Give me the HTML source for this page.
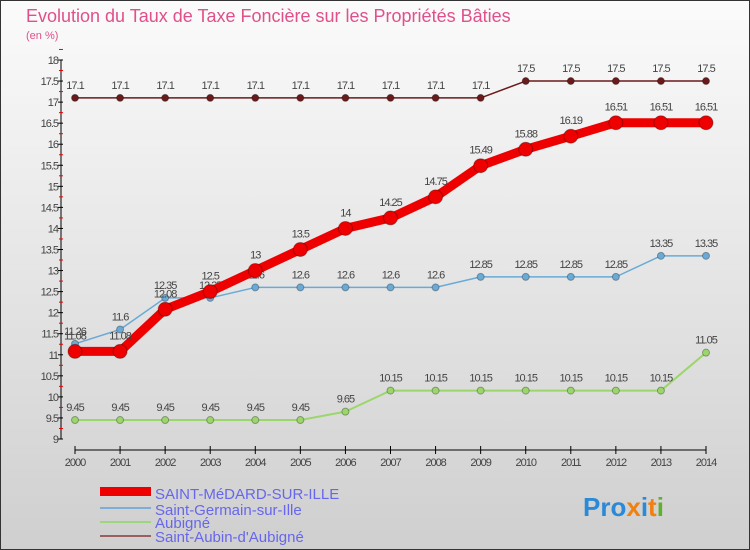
<!DOCTYPE html>
<html><head><meta charset="utf-8"><style>
body{margin:0}
#wrap{width:750px;height:550px;position:relative;overflow:hidden;font-family:"Liberation Sans",sans-serif}
svg text{font-family:"Liberation Sans",sans-serif}
</style></head><body>
<div id="wrap">
<svg id="c" width="750" height="550" xmlns="http://www.w3.org/2000/svg">
<defs><linearGradient id="bg" x1="0" y1="0" x2="0" y2="1"><stop offset="0" stop-color="#fbfbfb"/><stop offset="1" stop-color="#cfcfcf"/></linearGradient></defs>
<rect x="0.5" y="0.5" width="749" height="549" fill="url(#bg)" stroke="#333"/>
<text x="26" y="22" font-size="18" fill="#e0508a">Evolution du Taux de Taxe Foncière sur les Propriétés Bâties</text>
<text x="26" y="39" font-size="11" fill="#e0508a">(en %)</text>
<g id="axes"></g><g id="series"></g>
<g>
<rect x="100" y="487" width="51" height="9" fill="#e00"/>
<text x="155" y="499" font-size="15" fill="#6666ee">SAINT-MéDARD-SUR-ILLE</text>
<rect x="100" y="507" width="51" height="2" fill="#7eaed6"/>
<text x="155" y="515" font-size="15" fill="#6666ee">Saint-Germain-sur-Ille</text>
<rect x="100" y="521" width="51" height="2" fill="#9ed67e"/>
<text x="155" y="528" font-size="15" fill="#6666ee">Aubigné</text>
<rect x="100" y="535" width="51" height="2" fill="#9a6060"/>
<text x="155" y="542" font-size="15" fill="#6666ee">Saint-Aubin-d'Aubigné</text>
</g>
<text x="583" y="516" font-size="26" font-weight="bold"><tspan fill="#2a8ad8">Pro</tspan><tspan fill="#f08010">x</tspan><tspan fill="#2a8ad8">i</tspan><tspan fill="#f08010">t</tspan><tspan fill="#60b030">i</tspan></text>
</svg></div>
<script>
const years=[2000,2001,2002,2003,2004,2005,2006,2007,2008,2009,2010,2011,2012,2013,2014];
const medard=[11.08,11.08,12.08,12.5,13,13.5,14,14.25,14.75,15.49,15.88,16.19,16.51,16.51,16.51];
const germain=[11.26,11.6,12.35,12.35,12.6,12.6,12.6,12.6,12.6,12.85,12.85,12.85,12.85,13.35,13.35];
const aubigne=[9.45,9.45,9.45,9.45,9.45,9.45,9.65,10.15,10.15,10.15,10.15,10.15,10.15,10.15,11.05];
const aubin=[17.1,17.1,17.1,17.1,17.1,17.1,17.1,17.1,17.1,17.1,17.5,17.5,17.5,17.5,17.5];
const yTicks=[9,9.5,10,10.5,11,11.5,12,12.5,13,13.5,14,14.5,15,15.5,16,16.5,17,17.5,18];
const NS="http://www.w3.org/2000/svg";
const x=i=>75+i*(706-75)/(years.length-1);
const y=v=>439-(v-9)*(379/9);
function mk(t,a,p){const e=document.createElementNS(NS,t);for(const k in a)e.setAttribute(k,a[k]);p.appendChild(e);return e;}
const ax=document.getElementById('axes');
const yl=mk('line',{x1:61,y1:y(18),x2:61,y2:y(9),stroke:'#000'},ax);


yTicks.forEach(v=>{
 mk('line',{x1:58,x2:63,y1:y(v),y2:y(v),stroke:'#000'},ax);
 mk('line',{x1:59,x2:63,y1:y(v+0.25),y2:y(v+0.25),stroke:'#e00'},ax);
 const t=mk('text',{x:58,y:y(v)+4,'font-size':11,'text-anchor':'end',fill:'#444','letter-spacing':'-1'},ax);
 t.textContent=String(v);
 
 
});
const xl=mk('line',{x1:x(0),x2:x(years.length-1),y1:450,y2:450,stroke:'#000'},ax);


years.forEach((yr,i)=>{
 mk('line',{x1:x(i),x2:x(i),y1:446,y2:454,stroke:'#000'},ax);
 const t=mk('text',{x:x(i),y:466,'font-size':11,'text-anchor':'middle',fill:'#444','letter-spacing':'-1'},ax);
 t.textContent=yr;
 
 
});
const sg=document.getElementById('series');
function series(vals,color,w,r,name,dy){
 const g=mk('g',{},sg);
 
 
 mk('polyline',{points:vals.map((v,i)=>x(i)+','+y(v)).join(' '),fill:'none',stroke:color,'stroke-width':w,'stroke-linejoin':'round'},g);
 vals.forEach((v,i)=>{
  const c=mk('circle',{cx:x(i),cy:y(v),r:r,fill:color,stroke:'rgba(0,0,0,0.3)','stroke-width':1},g);
  
  
  const t=mk('text',{x:x(i),y:y(v)-dy,'font-size':11,'text-anchor':'middle',fill:'#444','letter-spacing':'-1'},g);
  t.textContent=String(v);
  
  
 });
}
series(aubigne,'#9ad66a',2,3.5,'series-aubigne',9);
series(aubin,'#6a1a1a',1.5,3.5,'series-saint-aubin',9);
series(germain,'#6aaad6',1.5,3.5,'series-saint-germain',9);
series(medard,'#ee0000',9,7,'series-saint-medard',12);
</script>
</body></html>
